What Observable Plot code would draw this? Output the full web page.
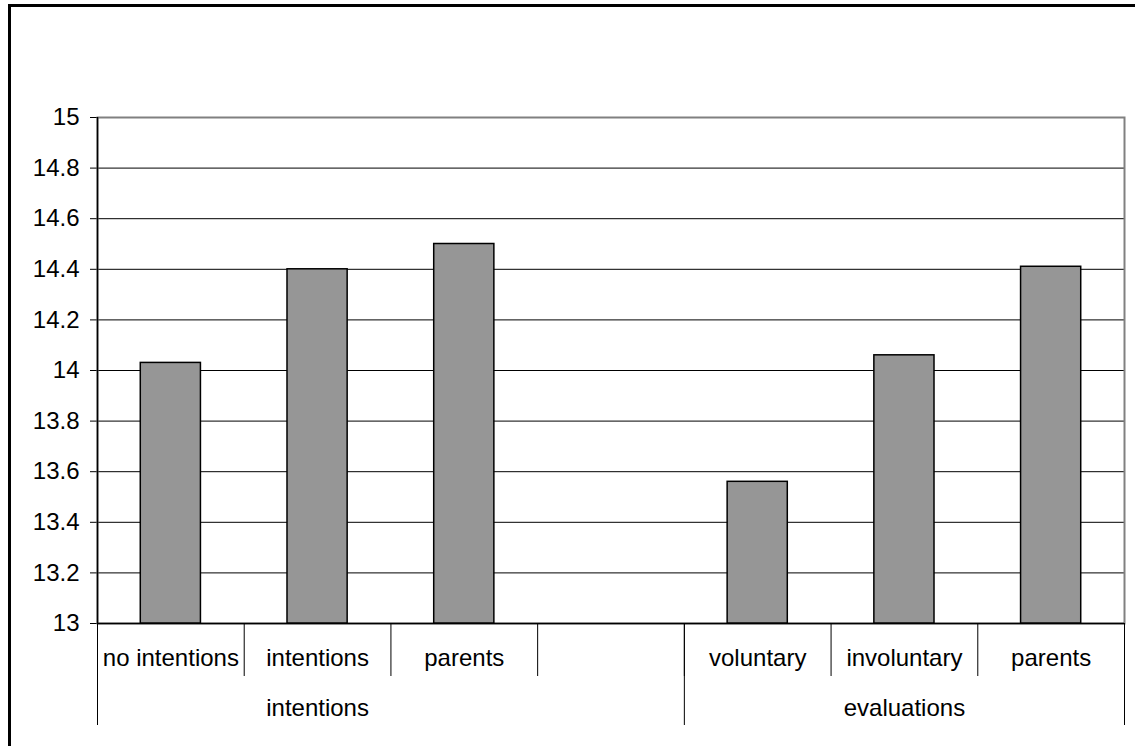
<!DOCTYPE html>
<html>
<head>
<meta charset="utf-8">
<script src="https://cdn.jsdelivr.net/npm/d3@7"></script>
<script src="https://cdn.jsdelivr.net/npm/@observablehq/plot@0.6"></script>
<style>
  html, body { margin: 0; padding: 0; background: white; overflow: hidden; width: 1135px; height: 746px; }
  #chart svg { display: block; }
  #border { position: absolute; left: 8px; top: 4px; width: 1200px; height: 800px; border-left: 3px solid black; border-top: 3px solid black; pointer-events: none; }
</style>
</head>
<body>
<div id="chart"></div>
<div id="border"></div>
<script>
// ---- data ----
const categories = ["no intentions", "intentions", "parents", "", "voluntary", "involuntary", "parents"];
const values = [14.03, 14.40, 14.50, null, 13.56, 14.06, 14.41];
const groupLabels = ["intentions", "evaluations"];
const groupStart = [0, 4];
const groupEnd = [3, 6];
const yTicks = [13, 13.2, 13.4, 13.6, 13.8, 14, 14.2, 14.4, 14.6, 14.8, 15];

// ---- layout ----
const W = 1135, H = 746;
const mL = 97, mR = 11, mT = 117, mB = 123;
const plotH = H - mT - mB;
const step = (W - mL - mR) / categories.length;

const keys = categories.map((_, i) => String(i));
const rows = categories.map((c, i) => ({key: keys[i], label: c, value: values[i]}));
const bars = rows.filter(d => d.value != null);
const groups = groupLabels.map((g, j) => ({
  label: g,
  key: keys[Math.floor((groupStart[j] + groupEnd[j]) / 2)],
  startKey: keys[groupStart[j]]
}));
const yBase = yTicks[0];

const chart = Plot.plot({
  width: W, height: H,
  marginLeft: mL, marginRight: mR, marginTop: mT, marginBottom: mB,
  style: {fontFamily: "'Liberation Sans', Arial, sans-serif", fontSize: "24px", background: "white", color: "black"},
  x: {type: "band", domain: keys, paddingInner: 0.59, paddingOuter: 0.295, round: false, axis: null},
  y: {domain: [yTicks[0], yTicks[yTicks.length - 1]], ticks: yTicks, tickSize: 7, tickPadding: 11,
      tickFormat: d => String(+d.toFixed(1)), label: null},
  marks: [
    Plot.ruleY(yTicks.slice(0, -1), {y: d => d, stroke: "black", strokeWidth: 1}),
    Plot.frame({stroke: "#808080", strokeWidth: 2}),
    Plot.ruleY([yBase], {y: d => d, stroke: "black", strokeWidth: 1.5}),
    Plot.barY(bars, {x: "key", y1: () => yBase, y2: "value", fill: "#969696", stroke: "black", strokeWidth: 1.5}),
    // category separators (first row)
    Plot.ruleX(keys, {x: d => d, dx: -step / 2, insetTop: plotH, insetBottom: -53, stroke: "black", strokeWidth: 1}),
    Plot.ruleX([keys[keys.length - 1]], {x: d => d, dx: step / 2, insetTop: plotH, insetBottom: -102, stroke: "black", strokeWidth: 1}),
    // group separators (second row)
    Plot.ruleX(groups, {x: "startKey", dx: -step / 2, insetTop: plotH, insetBottom: -102, stroke: "black", strokeWidth: 1}),
    // left axis line
    Plot.ruleX([keys[0]], {x: d => d, dx: -step / 2, stroke: "black", strokeWidth: 1.5}),
    Plot.text(rows, {x: "key", text: "label", frameAnchor: "bottom", dy: 42, fontSize: 24, fill: "black"}),
    Plot.text(groups, {x: "key", text: "label", frameAnchor: "bottom", dy: 92, fontSize: 24, fill: "black"})
  ]
});
document.getElementById("chart").appendChild(chart);
</script>
</body>
</html>
